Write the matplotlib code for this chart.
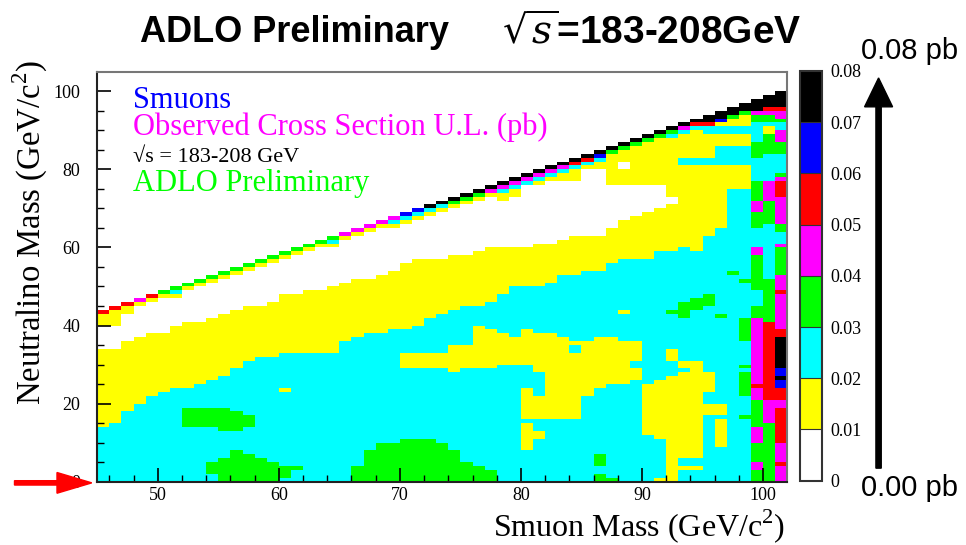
import numpy as np
import matplotlib.pyplot as plt
from matplotlib.colors import ListedColormap, BoundaryNorm
from matplotlib.patches import FancyArrow

# colour bands of the upper limit, 0.01 pb wide each
band_colors = ['#ffffff', '#ffff00', '#00ffff', '#00ff00',
               '#ff00ff', '#ff0000', '#0000ff', '#000000']
limit_edges = np.linspace(0.0, 0.08, 9)
limit_labels = ['0', '0.01', '0.02', '0.03', '0.04', '0.05', '0.06', '0.07', '0.08']

# 1 GeV bins: smuon mass 45..102, neutralino mass 0..105
smuon_mass = np.arange(45, 102)
n_chi_bins = 105

# per smuon bin (45..101): band structure of the limit map, in GeV
cyan_top = [14, 15, 18, 20, 22, 23, 24, 24, 25, 26, 27, 29, 31, 32, 32, 33, 33, 33, 33, 33,
            36, 37, 38, 38, 39, 39, 40, 42, 43, 44, 45, 45, 46, 48, 50, 50, 50, 51, 53, 53,
            54, 54, 56, 57, 57, 57, 59, 59, 60, 59, 63, 65, 65, 65, 65, 65, 65]
band_top = [34, 34, 36, 37, 38, 38, 40, 41, 41, 42, 43, 44, 45, 45, 46, 48, 48, 49, 49, 50,
            51, 52, 52, 53, 54, 56, 57, 57, 57, 58, 58, 59, 60, 60, 60, 60, 61, 61, 62, 63,
            63, 63, 65, 67, 68, 69, 70, 71, 80, 80, 80, 80, 80, 80, 80, 80, 80]
gap_top = [40, 40, 43, 45, 46, 47, 47, 49, 50, 51, 52, 53, 54, 55, 56, 57, 58, 59, 60, 60,
           62, 63, 64, 65, 65, 66, 67, 68, 69, 70, 71, 72, 73, 72, 73, 76, 76, 77, 77, 77,
           80, 80, 76, 76, 76, 76, 76, 73, 80, 80, 80, 80, 80, 80, 80, 80, 80]
# colour level of the cell on the kinematic edge and of the two below it
edge_level = [5, 5, 5, 4, 5, 3, 3, 3, 3, 3, 3, 3, 3, 3, 3, 3, 3, 3, 3, 3,
              4, 4, 4, 4, 4, 6, 6, 7, 7, 7, 7, 7, 7, 7, 7, 7, 7, 7, 7, 7,
              7, 7, 7, 7, 7, 7, 7, 7, 7, 7, 7, 7, 7, 7, 7, 7, 7]
below_edge = [1, 1, 1, 1, 1, 1, 2, 1, 1, 1, 1, 1, 1, 1, 1, 1, 1, 1, 1, 2,
              1, 1, 1, 1, 2, 2, 2, 2, 2, 3, 3, 3, 4, 4, 4, 4, 4, 4, 4, 5,
              5, 6, 3, 3, 3, 3, 3, 3, 4, 5, 7, 7, 7, 7, 4, 5, 5]
third_edge = [-1] * 33 + [2] * 9 + [-1] * 5 + [2, 2, 2, 5, 6, 3, 3, 3, 2, 2]  # -1: band colour

# islands inside the bands: (smuon lo, smuon hi, chi lo, chi hi, level)
yellow_islands = [
    (60, 61, 23, 24, 1), (70, 74, 29, 33, 1), (74, 75, 28, 35, 1), (75, 76, 29, 35, 1),
    (76, 77, 29, 40, 1), (77, 78, 29, 39, 1), (78, 79, 30, 38, 1), (79, 80, 30, 37, 1),
    (80, 81, 30, 39, 1), (80, 81, 16, 24, 1), (80, 81, 8, 15, 1), (81, 82, 28, 38, 1),
    (81, 82, 16, 22, 1), (81, 82, 11, 13, 1), (82, 83, 16, 38, 1), (83, 84, 16, 37, 1),
    (84, 85, 16, 36, 1), (84, 85, 33, 35, 2), (85, 86, 22, 36, 1), (86, 87, 24, 37, 1),
    (87, 88, 25, 37, 1), (88, 89, 25, 36, 1), (88, 89, 43, 44, 1), (89, 90, 31, 36, 1),
    (89, 90, 26, 29, 1), (90, 91, 12, 25, 1), (91, 92, 11, 26, 1), (91, 92, 0, 1, 1),
    (92, 93, 0, 27, 1), (92, 93, 31, 34, 1), (93, 94, 6, 28, 1), (93, 94, 29, 31, 1),
    (93, 94, 3, 4, 1), (94, 95, 6, 31, 1), (94, 95, 3, 4, 1), (95, 96, 23, 28, 1),
    (95, 96, 17, 20, 1), (96, 97, 17, 20, 1), (96, 97, 9, 16, 1), (92, 93, 73, 75, 1),
]
green_islands = [
    (52, 55, 14, 19, 3), (55, 56, 13, 19, 3), (56, 57, 13, 18, 3), (57, 58, 14, 17, 3),
    (54, 55, 2, 5, 3), (55, 56, 0, 6, 3), (56, 57, 0, 8, 3), (57, 58, 0, 7, 3),
    (58, 59, 0, 6, 3), (59, 60, 0, 5, 3), (60, 61, 1, 4, 3), (61, 62, 3, 4, 3),
    (66, 67, 0, 4, 3), (67, 68, 0, 8, 3), (68, 70, 0, 10, 3), (70, 73, 0, 11, 3),
    (73, 74, 0, 10, 3), (74, 75, 0, 8, 3), (75, 76, 0, 5, 3), (76, 77, 0, 4, 3),
    (77, 78, 0, 3, 3), (86, 87, 4, 7, 3), (86, 87, 0, 2, 3), (87, 88, 0, 1, 3),
    (92, 93, 43, 44, 3), (93, 94, 42, 46, 3), (94, 95, 44, 47, 3), (95, 96, 45, 48, 3),
    (96, 97, 42, 43, 3), (97, 98, 53, 54, 3), (98, 99, 51, 52, 3), (98, 99, 36, 42, 3),
    (98, 99, 29, 30, 3), (98, 99, 22, 28, 3), (98, 99, 16, 17, 3),
]
cyan_islands = [
    (97, 99, 65, 75, 2), (93, 99, 81, 83, 2), (96, 99, 83, 86, 2), (95, 99, 89, 91, 2),
]
white_islands = [(88, 89, 80, 82, 0)]
# last three smuon bins, runs of (chi lo, chi hi, level)
col_99 = [(0, 3, 3), (3, 5, 4), (5, 10, 3), (10, 14, 4), (14, 21, 3), (21, 24, 4),
          (24, 25, 5), (25, 42, 4), (42, 45, 3), (45, 49, 2), (49, 58, 3), (58, 60, 4),
          (60, 65, 2), (65, 69, 3), (69, 72, 4), (72, 77, 3), (77, 83, 2), (83, 87, 3),
          (87, 92, 2), (92, 94, 3), (94, 95, 4), (95, 98, 7)]
col_100 = [(0, 15, 3), (15, 21, 4), (21, 41, 5), (41, 52, 3), (52, 57, 2), (57, 66, 2),
           (66, 72, 3), (72, 77, 4), (77, 84, 2), (84, 89, 3), (89, 91, 1), (91, 92, 2),
           (92, 94, 3), (94, 95, 4), (95, 96, 5), (96, 99, 7)]
col_101 = [(0, 4, 4), (4, 5, 5), (5, 10, 4), (10, 19, 5), (19, 21, 4), (21, 24, 5),
           (24, 26, 6), (26, 27, 7), (27, 29, 6), (29, 37, 7), (37, 39, 5), (39, 48, 4),
           (48, 49, 5), (49, 53, 4), (53, 57, 3), (57, 60, 3), (60, 61, 4), (61, 64, 2),
           (64, 66, 3), (66, 73, 4), (73, 77, 5), (77, 78, 4), (78, 79, 3), (79, 84, 2),
           (84, 87, 3), (87, 90, 4), (90, 92, 2), (92, 93, 3), (93, 95, 4), (95, 96, 5),
           (96, 100, 7)]

# build the level map column by column
level = np.full((n_chi_bins, len(smuon_mass)), np.nan)
for i, m in enumerate(smuon_mass):
    top = m - 2
    col = np.full(n_chi_bins, np.nan)
    col[:cyan_top[i]] = 2
    col[cyan_top[i]:band_top[i]] = 1
    col[band_top[i]:gap_top[i]] = 0
    col[gap_top[i]:top - 1] = 1
    if third_edge[i] >= 0:
        col[top - 2] = third_edge[i]
    col[top - 1] = below_edge[i]
    col[top] = edge_level[i]
    level[:, i] = col

for lo, hi, ylo, yhi, lev in yellow_islands + green_islands + cyan_islands + white_islands:
    for i in range(lo - 45, hi - 45):
        ytop = min(yhi, smuon_mass[i] - 3)
        level[ylo:ytop, i] = lev

for m, runs in ((99, col_99), (100, col_100), (101, col_101)):
    i = m - 45
    for ylo, yhi, lev in runs:
        level[ylo:min(yhi, m - 1), i] = lev
    level[m - 1:, i] = np.nan

xsec = (level + 0.5) * 0.01

plt.rcParams['font.family'] = ['Liberation Serif', 'DejaVu Serif']
plt.rcParams['mathtext.fontset'] = 'custom'
plt.rcParams['mathtext.rm'] = 'Liberation Serif'
fig = plt.figure(figsize=(9.66, 5.45), dpi=100)
ax = fig.add_axes([0.1007, 0.1161, 0.7143, 0.7523])

cmap = ListedColormap(band_colors)
norm = BoundaryNorm(limit_edges, cmap.N)
x_edges = np.arange(45, 103)
y_edges = np.arange(0, n_chi_bins + 1)
mesh = ax.pcolormesh(x_edges, y_edges, np.ma.masked_invalid(xsec), cmap=cmap, norm=norm)

ax.set_xlim(45, 102)
ax.set_ylim(0, 105)
ax.set_xticks(np.arange(50, 101, 10))
ax.set_xticks(np.arange(46, 102, 2), minor=True)
ax.set_yticks(np.arange(0, 101, 20))
ax.set_yticks(np.arange(0, 105, 5), minor=True)
ax.tick_params(which='both', direction='in', top=False, right=False, labelsize=13)
ax.tick_params(which='major', length=10, width=1.2)
ax.tick_params(which='minor', length=5, width=1)
ax.tick_params(axis='x', pad=4)
ax.tick_params(axis='y', pad=12)
for side in ('left', 'bottom'):
    ax.spines[side].set_color('#222222')
    ax.spines[side].set_linewidth(1.5)
for side in ('top', 'right'):
    ax.spines[side].set_color('#777777')
    ax.spines[side].set_linewidth(1.5)

fig.text(0.813, 0.0, 'Smuon Mass (GeV/c$^2$)', fontsize=23, ha='right', va='bottom')
fig.text(0.031, 0.89, 'Neutralino Mass (GeV/c$^2$)', fontsize=23.5, rotation=90,
         ha='center', va='top')

ax.text(0.052, 0.931, 'Smuons', transform=ax.transAxes, color='#0000ff', fontsize=22,
        va='center')
ax.text(0.052, 0.865, 'Observed Cross Section U.L. (pb)', transform=ax.transAxes,
        color='#ff00ff', fontsize=22, va='center')
ax.text(0.052, 0.792, '\u221as = 183-208 GeV', transform=ax.transAxes, color='black',
        fontsize=16, va='center')
ax.text(0.052, 0.728, 'ADLO Preliminary', transform=ax.transAxes, color='#00ff00',
        fontsize=22, va='center')

# colour scale
cax = fig.add_axes([0.828, 0.118, 0.0228, 0.752])
cb = fig.colorbar(mesh, cax=cax, ticks=limit_edges, drawedges=True)
cb.ax.set_yticklabels(limit_labels)
cb.ax.tick_params(length=0, labelsize=13, pad=6)
cb.outline.set_linewidth(1.5)
cb.outline.set_edgecolor('#333333')
cb.dividers.set_linewidth(0.8)
cb.dividers.set_color('#333333')

# title line
fig.text(0.145, 0.941, 'ADLO Preliminary', fontsize=26, fontweight='bold',
         family='Liberation Sans', va='center')
fig.text(0.520, 0.941, r'$\sqrt{s}$=183-208GeV', fontsize=28, fontweight='bold',
         family='Liberation Sans', va='center', math_fontfamily='dejavuserif')

# scale arrow on the right
fig.text(0.942, 0.906, '0.08 pb', fontsize=21, family='Liberation Sans', ha='center',
         va='center')
fig.text(0.942, 0.105, '0.00 pb', fontsize=21, family='Liberation Sans', ha='center',
         va='center')
fig.add_artist(FancyArrow(0.9095, 0.141, 0, 0.716, width=0.0055, head_width=0.029,
                          head_length=0.053, length_includes_head=True,
                          transform=fig.transFigure, color='black'))

# red marker at zero neutralino mass
fig.add_artist(FancyArrow(0.015, 0.114, 0.080, 0, width=0.008, head_width=0.038,
                          head_length=0.036, length_includes_head=True,
                          transform=fig.transFigure, color='#ff0000'))

fig.savefig('out.png', dpi=100)
